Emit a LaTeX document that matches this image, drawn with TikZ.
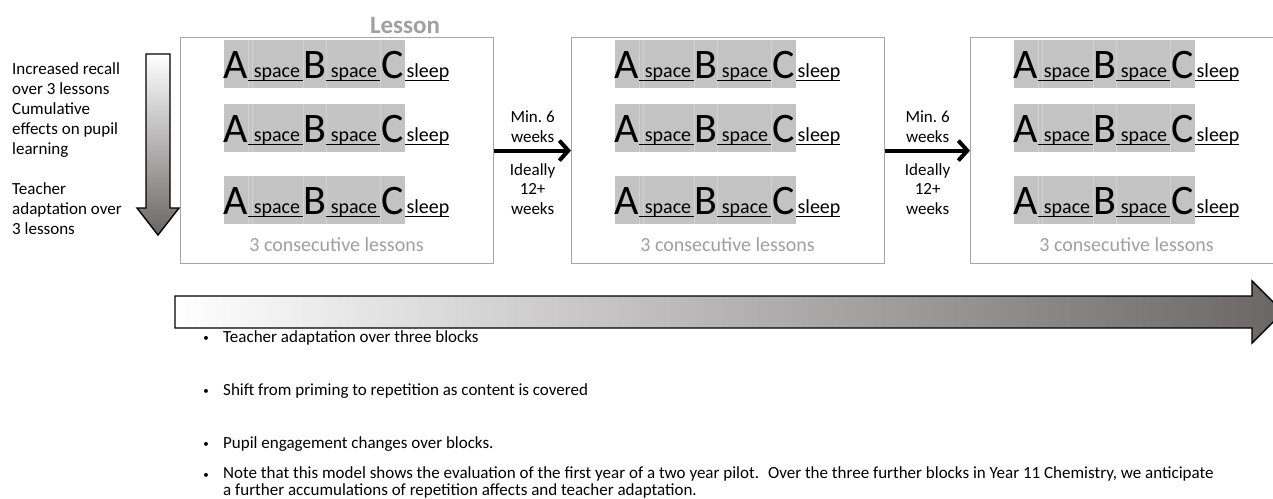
\documentclass[tikz,border=0pt]{standalone}
\usepackage{fontspec}
\setmainfont{Carlito}
\usetikzlibrary{arrows.meta}
\definecolor{boxgray}{HTML}{A6A6A6}
\definecolor{cellgray}{HTML}{C3C3C3}
\definecolor{cellline}{HTML}{D2D2D2}
\definecolor{labgray}{HTML}{A0A0A0}
\definecolor{arrowdark}{HTML}{6A6666}
\begin{document}
\begin{tikzpicture}[x=1pt,y=-1pt,
  lessonbox/.style={draw=boxgray, line width=1.2pt, minimum width=313pt, minimum height=226pt, inner sep=0pt, anchor=north west},
  bigletter/.style={font=\fontsize{42}{42}\selectfont, inner sep=0pt, anchor=base},
  smallword/.style={font=\fontsize{20}{20}\selectfont, inner sep=0pt, anchor=base},
  conslab/.style={font=\fontsize{20}{20}\selectfont, text=labgray, inner sep=0pt},
  weeklab/.style={font=\fontsize{17}{19.5}\selectfont, align=center, inner sep=0pt},
  sidetext/.style={font=\fontsize{17}{20}\selectfont, align=left, inner sep=0pt, anchor=north west},
  bullettext/.style={font=\fontsize{17}{17}\selectfont, align=left, inner sep=0pt, anchor=base west},
  bulletdot/.style={font=\fontsize{11}{11}\selectfont, inner sep=0pt, anchor=base},
  gaparrow/.style={line width=4pt, -{Straight Barb[length=9pt,width=20pt]}},
  bigarrow/.style={draw=black, line width=1.4pt, line join=miter}
]
\clip (0,0) rectangle (1273,498);
\fill[white] (0,0) rectangle (1273,498);

% lesson label
\node[font=\fontsize{25}{25}\selectfont\bfseries, text=labgray, inner sep=0pt] (lessonlab) at (405,25) {Lesson};

% boxes
\node[lessonbox] (box1) at (180,37) {};
\node[lessonbox] (box2) at (571,37) {};
\node[lessonbox] (box3) at (970,37) {};

% rows
\foreach \b/\L in {1/180,2/571,3/970}{
  \foreach \r/\T in {1/40,2/104,3/176}{
    \fill[cellgray] (\L+44,\T) rectangle (\L+225,\T+48);
    \foreach \d in {68,72,123,146,200}{
      \draw[cellline, line width=0.8pt] (\L+\d,\T) -- (\L+\d,\T+48);
    }
    \node[bigletter] (A\b\r) at (\L+55.5,\T+38) {A};
    \node[bigletter] (B\b\r) at (\L+135,\T+38) {B};
    \node[bigletter] (C\b\r) at (\L+212.5,\T+38) {C};
    \node[smallword] (sa\b\r) at (\L+97,\T+37) {space};
    \node[smallword] (sb\b\r) at (\L+174,\T+37) {space};
    \node[smallword] (sl\b\r) at (\L+248,\T+37) {sleep};
    \draw[line width=1pt] (\L+68,\T+40.5) -- (\L+123,\T+40.5);
    \draw[line width=1pt] (\L+146,\T+40.5) -- (\L+200,\T+40.5);
    \draw[line width=1pt] (\L+225,\T+40.5) -- (\L+269,\T+40.5);
  }
  \node[conslab] (cons\b) at (\L+156.5,245) {3 consecutive lessons};
}

% connectors between blocks
\draw[gaparrow] (box1.east) -- node[midway, above=6pt, weeklab] (min1) {Min.~6\\weeks}
  node[midway, below=11pt, weeklab] (ideal1) {Ideally\\12+\\weeks} (box2.west);
\draw[gaparrow] (box2.east) -- node[midway, above=6pt, weeklab] (min2) {Min.~6\\weeks}
  node[midway, below=11pt, weeklab] (ideal2) {Ideally\\12+\\weeks} (box3.west);

% left text
\node[sidetext] (side) at (12,62) {Increased recall\\over 3 lessons\\Cumulative\\effects on pupil\\learning\\[20pt]Teacher\\adaptation over\\3 lessons};

% vertical big arrow
\path[bigarrow, top color=white, bottom color=arrowdark]
  (146,54) -- (170,54) -- (170,208) -- (179,208) -- (158,235) -- (137,208) -- (146,208) -- cycle;

% horizontal big arrow
\path[bigarrow, left color=white, right color=arrowdark]
  (175,296) -- (1252,296) -- (1252,281) -- (1283,312) -- (1252,343) -- (1252,328) -- (175,328) -- cycle;

% bullets
\node[bulletdot] (d1) at (206,341) {•};
\node[bullettext] (t1) at (223,342) {Teacher adaptation over three blocks};
\node[bulletdot] (d2) at (206,394) {•};
\node[bullettext] (t2) at (223,395) {Shift from priming to repetition as content is covered};
\node[bulletdot] (d3) at (206,447) {•};
\node[bullettext] (t3) at (223,448) {Pupil engagement changes over blocks.};
\node[bulletdot] (d4) at (206,478) {•};
\node[bullettext, anchor=north west] (t4) at (223,466) {Note that this model shows the evaluation of the first year of a two year pilot.~ Over the three further blocks in Year 11 Chemistry, we anticipate\\a further accumulations of repetition affects and teacher adaptation.};
\end{tikzpicture}
\end{document}
